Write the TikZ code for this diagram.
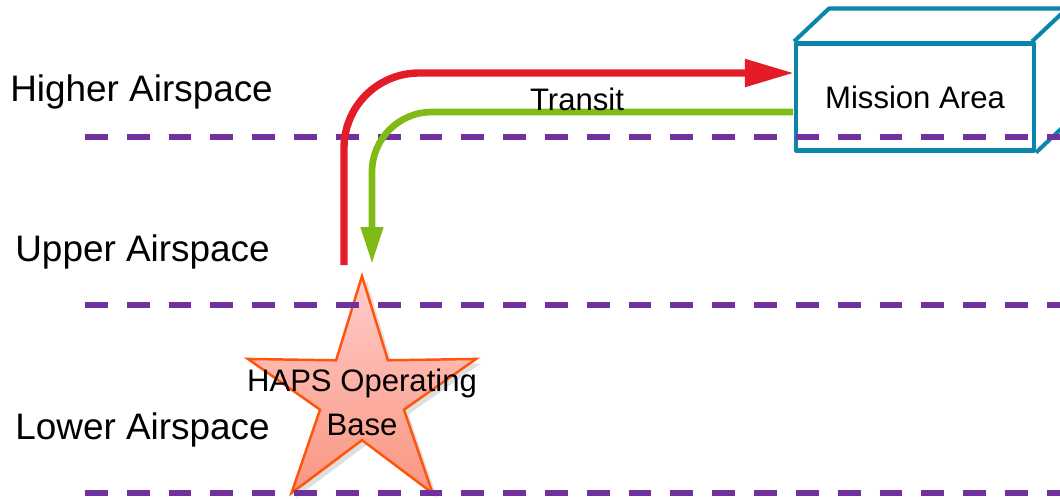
\documentclass[tikz,border=0pt]{standalone}
\usepackage{fontspec}
\setmainfont{Liberation Sans}
\usetikzlibrary{arrows.meta,shapes.geometric,shadows}
\definecolor{levelpurple}{RGB}{112,48,160}
\definecolor{cubeteal}{RGB}{10,134,170}
\definecolor{outred}{RGB}{228,28,40}
\definecolor{backgreen}{RGB}{128,186,20}
\definecolor{starline}{RGB}{255,84,10}
\begin{document}
\begin{tikzpicture}[x=0.02cm,y=-0.02cm,
level line/.style={levelpurple,line width=3.3pt,dash pattern=on 13pt off 10.8pt},
level label/.style={anchor=west,inner sep=0pt,font=\fontsize{21}{25}\selectfont},
cube edge/.style={draw=cubeteal,line width=2.3pt,line join=round},
outbound/.style={outred,line width=4.2pt,rounded corners=1.5cm,-{Triangle[length=28pt,width=15pt]}},
inbound/.style={backgreen,line width=3.8pt,rounded corners=1.2cm,-{Triangle[length=21pt,width=12pt]}},
base star/.style={star,star points=5,star point ratio=2.72,minimum size=4.8cm,inner sep=0pt,draw=starline,line width=1.4pt,top color=red!20!white,bottom color={rgb,255:red,250;green,150;blue,128},drop shadow={opacity=0.25}}]
\clip (0,0) rectangle (1060,498);
\useasboundingbox (0,0) rectangle (1060,498);
\begin{scope}
\node[level label] (higher) at (10,92) {Higher Airspace};
\node[level label] (upper) at (15,252) {Upper Airspace};
\node[level label] (lower) at (15,430) {Lower Airspace};
\node[cube edge,fill=white,minimum width=4.76cm,minimum height=2.14cm,font=\fontsize{17.7}{21}\selectfont] (mission) at (915,97) {Mission Area};
\node[base star] (base) at (362,396) {};
\end{scope}
% cube depth
\draw[cube edge] (mission.north west) -- ++(35,-33) -- ++(238,0) -- ++(-35,33);
\draw[cube edge] (mission.south east) -- ++(35,-33) -- ++(0,-107);
\foreach \y in {137,305,493}
  \draw[level line] (85,\y) -- (1060,\y);
\node[align=center,inner sep=0pt,font=\fontsize{17.7}{25}\selectfont] (baselabel) at (362,402) {HAPS Operating\\Base};
\begin{scope}
\coordinate (redtail) at (344,265);
\coordinate (redhead) at (794,73);
\coordinate (greentail) at (793,112);
\coordinate (greenhead) at (372,264);
\draw[outbound] (redtail) |- (redhead);
\draw[inbound] (greentail) -| (greenhead);
\node[inner sep=0pt,font=\fontsize{17.7}{21}\selectfont] (transit) at (577,99) {Transit};
\end{scope}
\end{tikzpicture}
\end{document}
